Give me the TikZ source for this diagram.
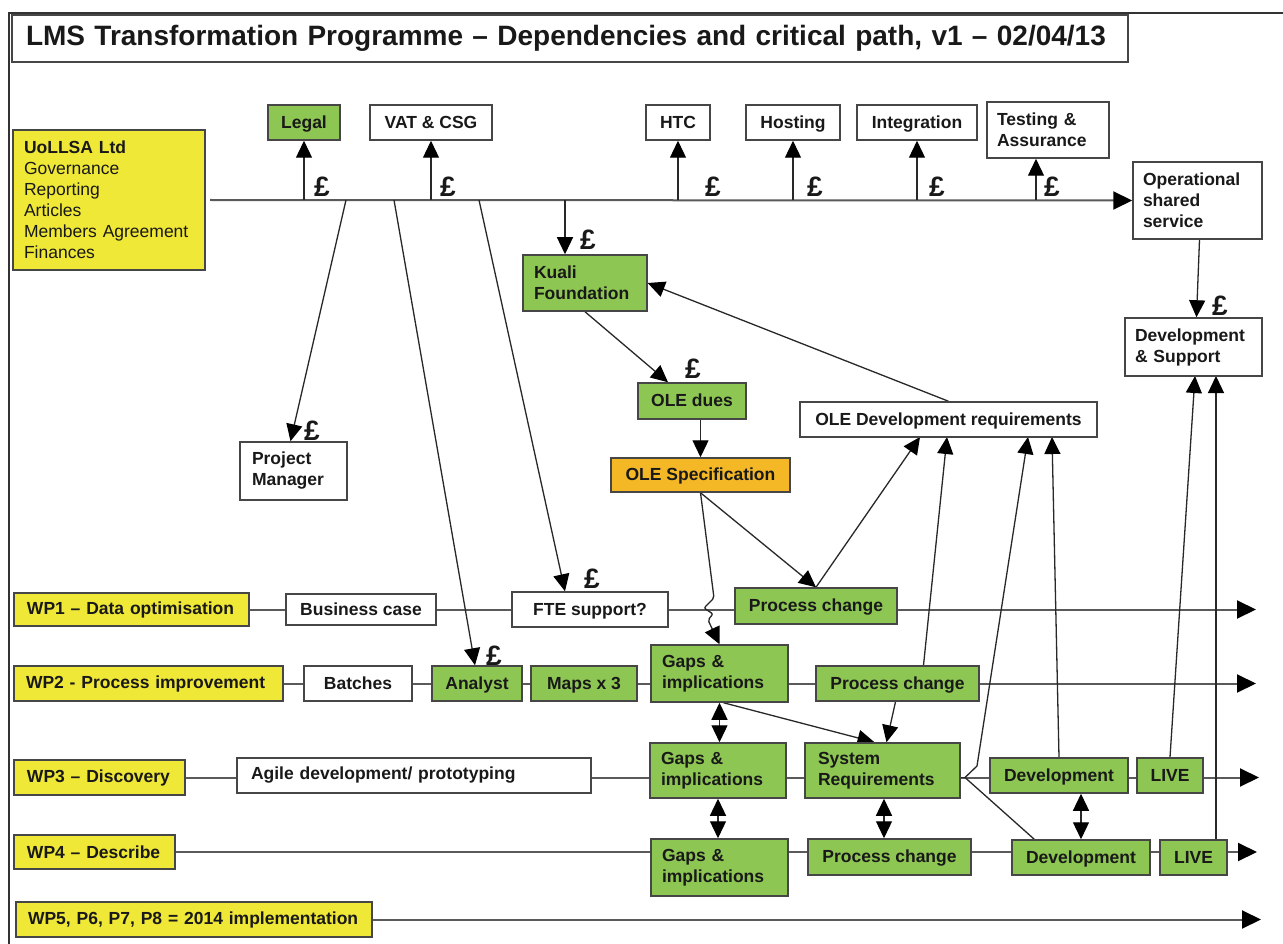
\documentclass[tikz,border=0pt]{standalone}
\usepackage{fontspec}
\setmainfont{Liberation Sans}
\usetikzlibrary{arrows.meta,calc,backgrounds}
\definecolor{wpyellow}{RGB}{240,232,55}
\definecolor{boxgreen}{RGB}{141,198,83}
\definecolor{boxorange}{RGB}{244,184,39}
\definecolor{edge}{RGB}{70,70,70}
\definecolor{linec}{RGB}{40,40,40}
\definecolor{rowc}{RGB}{90,90,90}
\tikzset{
 every node/.style={font=\fontsize{17.5}{21}\selectfont\bfseries, text=black!90},
 bx/.style={draw=edge, line width=1.5pt, inner xsep=6pt, inner ysep=3pt},
 wbox/.style={bx, fill=white},
 gbox/.style={bx, fill=boxgreen},
 ybox/.style={bx, fill=wpyellow},
 obox/.style={bx, fill=boxorange},
 conn/.style={draw=linec, line width=1.3pt},
 arr/.style={conn, -{Triangle[length=17pt,width=16pt,color=black]}},
 darr/.style={conn, {Triangle[length=17pt,width=16pt,color=black]}-{Triangle[length=17pt,width=16pt,color=black]}},
 rowline/.style={draw=rowc, line width=2pt, -{Triangle[length=19pt,width=18pt,color=black]}},
 pound/.style={font=\fontsize{28}{28}\selectfont\bfseries, anchor=base, inner sep=0pt},
}
\newcommand\bx[7]{\node[#2, text height=12.5pt, text depth=1pt, minimum width={#5-#3}, minimum height={#6-#4}] (#1) at ({(#3+#5)/2},{(#4+#6)/2}) {#7};}
\newcommand\bxl[8]{\pgfmathsetmacro\tw{#5-#3-2*#8}%
 \node[#2, inner xsep=#8pt, text width=\tw pt, align=left, minimum height={#6-#4}] (#1) at ({(#3+#5)/2},{(#4+#6)/2}) {#7};}
\begin{document}
\begin{tikzpicture}[x=1pt,y=-1pt]
\useasboundingbox (0,0) rectangle (1283,944);
\draw[line width=2pt, black!80] (9,944) -- (9,13) -- (1283,13);

% title
\bxl{title}{wbox, font=\fontsize{28}{32}\selectfont\bfseries}{12}{15}{1128}{62}{LMS Transformation Programme – Dependencies and critical path, v1 – 02/04/13}{14}
\bxl{uol}{ybox}{13}{130}{205}{270}{UoLLSA Ltd\\\mdseries Governance\\Reporting\\Articles\\Members Agreement\\Finances}{11}

% top boxes
\bx{legal}{gbox}{268}{105}{340}{140}{Legal}
\bx{vat}{wbox}{370}{105}{492}{140}{VAT \& CSG}
\bx{htc}{wbox}{646}{105}{710}{140}{HTC}
\bx{host}{wbox}{746}{105}{840}{140}{Hosting}
\bx{integ}{wbox}{857}{105}{977}{140}{Integration}
\bxl{test}{wbox}{987}{102}{1109}{158}{Testing \&\\Assurance}{10}
\bxl{oper}{wbox}{1133}{162}{1262}{239}{Operational\\shared\\service}{10}
\bxl{devsup}{wbox}{1125}{318}{1262}{376}{Development\\\& Support}{10}
\bxl{pm}{wbox}{240}{442}{347}{500}{Project\\Manager}{12}
\bxl{kuali}{gbox}{523}{255}{647}{311}{Kuali\\Foundation}{11}
\bx{oledues}{gbox}{638}{383}{746}{419}{OLE dues}
\bx{olespec}{obox}{611}{458}{790}{492}{OLE Specification}
\bx{oledev}{wbox}{800}{402}{1097}{437}{OLE Development requirements}

% WP rows
\bxl{wp1}{ybox}{14}{593}{249}{626}{WP1 – Data optimisation}{13}
\bx{bc}{wbox}{286}{594}{436}{625}{Business case}
\bx{fte}{wbox}{512}{592}{668}{627}{FTE support?}
\bx{pc1}{gbox}{735}{588}{897}{624}{Process change}

\bxl{wp2}{ybox}{14}{666}{283}{701}{WP2 - Process improvement}{12}
\bx{bat}{wbox}{304}{666}{412}{701}{Batches}
\bx{ana}{gbox}{432}{666}{522}{701}{Analyst}
\bx{maps}{gbox}{531}{666}{637}{701}{Maps x 3}
\bxl{gap2}{gbox}{651}{645}{788}{702}{Gaps \&\\implications}{11}
\bx{pc2}{gbox}{816}{666}{979}{701}{Process change}

\bxl{wp3}{ybox}{14}{760}{185}{795}{WP3 – Discovery}{13}
\bxl{agile}{wbox}{237}{758}{591}{793}{Agile development/ prototyping}{14}
\bxl{gap3}{gbox}{650}{743}{786}{798}{Gaps \&\\implications}{11}
\bxl{sysreq}{gbox}{805}{743}{960}{798}{System\\Requirements}{13}
\bx{dev3}{gbox}{990}{758}{1128}{793}{Development}
\bx{live3}{gbox}{1137}{758}{1203}{793}{LIVE}

\bxl{wp4}{ybox}{14}{835}{175}{869}{WP4 – Describe}{13}
\bxl{gap4}{gbox}{651}{839}{788}{896}{Gaps \&\\implications}{11}
\bx{pc4}{gbox}{808}{839}{971}{875}{Process change}
\bx{dev4}{gbox}{1012}{840}{1150}{875}{Development}
\bx{live4}{gbox}{1160}{840}{1227}{875}{LIVE}

\bxl{wp5}{ybox}{16}{902}{372}{937}{WP5, P6, P7, P8 = 2014 implementation}{12}

% coordinates
\coordinate (ms) at (210,200);
\coordinate (m1) at (304,200);
\coordinate (m2) at (431,200);
\coordinate (m3) at (678,200);
\coordinate (m4) at (793,200);
\coordinate (m5) at (917,200);
\coordinate (m6) at (1036,200);
\coordinate (mpm) at (346,200);
\coordinate (mana) at (394,200);
\coordinate (mfte) at (479,200);
\coordinate (mku) at (565,200);
\coordinate (e1) at (1256,609.5);
\coordinate (e2) at (1256,683.5);
\coordinate (e3) at (1259,777.5);
\coordinate (e4) at (1257,852);
\coordinate (e5) at (1261,919.5);
\coordinate (sr) at (965,777.5);
\coordinate (od1) at (920,437);
\coordinate (od2) at (947,437);
\coordinate (od3) at (1028,437);
\coordinate (od4) at (1052,437);
\coordinate (ds1) at (1195,376);
\coordinate (ds2) at (1216,376);
\coordinate (sq) at ($(sysreq.south)+(1.5,0)$);
\coordinate (pc2t) at ($(pc2.north)+(26,0)$);

% pound signs
\node[pound] (p1) at (322,197) {£};
\node[pound] (p2) at (448,197) {£};
\node[pound] (p3) at (713,197) {£};
\node[pound] (p4) at (815,197) {£};
\node[pound] (p5) at (937,197) {£};
\node[pound] (p6) at (1052,197) {£};
\node[pound] (p7) at (312,440) {£};
\node[pound] (p8) at (494,665) {£};
\node[pound] (p9) at (592,588) {£};
\node[pound] (p10) at (588,250) {£};
\node[pound] (p11) at (693,378) {£};
\node[pound] (p12) at (1220,316) {£};

\begin{pgfonlayer}{background}
\fill[white] (0,0) rectangle (1283,944);
% row lines
\draw[rowline] (wp1.east) -- (e1);
\draw[rowline] (wp2.east) -- (e2);
\draw[rowline] (wp3.east) -- (e3);
\draw[rowline] (wp4.east) -- (e4);
\draw[rowline] (wp5.east) -- (e5);
% main line
\draw[rowline] (ms) -- (oper.west);
\draw[arr] (m1) -- (m1 |- legal.south);
\draw[arr] (m2) -- (m2 |- vat.south);
\draw[arr] (m3) -- (m3 |- htc.south);
\draw[arr] (m4) -- (m4 |- host.south);
\draw[arr] (m5) -- (m5 |- integ.south);
\draw[arr] (m6) -- (m6 |- test.south);
\draw[arr] (mpm) -- ($(pm.north)+(-3,0)$);
\draw[arr] (mana) -- ($(ana.north)+(-2,0)$);
\draw[arr] (mfte) -- ($(fte.north)+(-25,0)$);
\draw[arr] (mku) -- (mku |- kuali.north);
\draw[arr] ($(oper.south)+(2,0)$) -- ($(devsup.north)+(3,0)$);
% Kuali chain
\draw[arr] (kuali.south) -- ($(oledues.north)+(-24,0)$);
\draw[arr] (olespec.north |- oledues.south) -- (olespec.north);
\draw[arr, rounded corners=2pt] (olespec.south) -- (714,598) -- (704,608) -- (713,614) -- (708,620) -- (gap2.north);
\draw[arr] (olespec.south) -- (pc1.north);
\draw[arr] (pc1.north) -- (od1);
\draw[arr] (pc2t) -- (od2);
\draw[arr] (oledev.north) -- (kuali.east);
% system requirements
\draw[conn] (sysreq.east |- sr) -- (sr);
\draw[arr] (sr) -- (977,766) -- (od3);
\draw[conn] (sr) -- ($(dev4.north west)+(23,0)$);
\draw[arr] (dev3.north) -- (od4);
\draw[arr] (live3.north) -- (ds1);
\draw[arr] (ds2 |- live4.north) -- (ds2);
\draw[arr] ($(gap2.south)+(4,0)$) -- ($(sysreq.north)+(-8,0)$);
\draw[arr] ($(pc2.south)+(-2,0)$) -- ($(sysreq.north)+(4,0)$);
% double arrows
\draw[darr] (gap2.south) -- (gap2.south |- gap3.north);
\draw[darr] (gap3.south) -- (gap3.south |- gap4.north);
\draw[darr] (sq) -- (sq |- pc4.north);
\draw[darr] (dev4.north |- dev3.south) -- (dev4.north);
\end{pgfonlayer}
\end{tikzpicture}
\end{document}
